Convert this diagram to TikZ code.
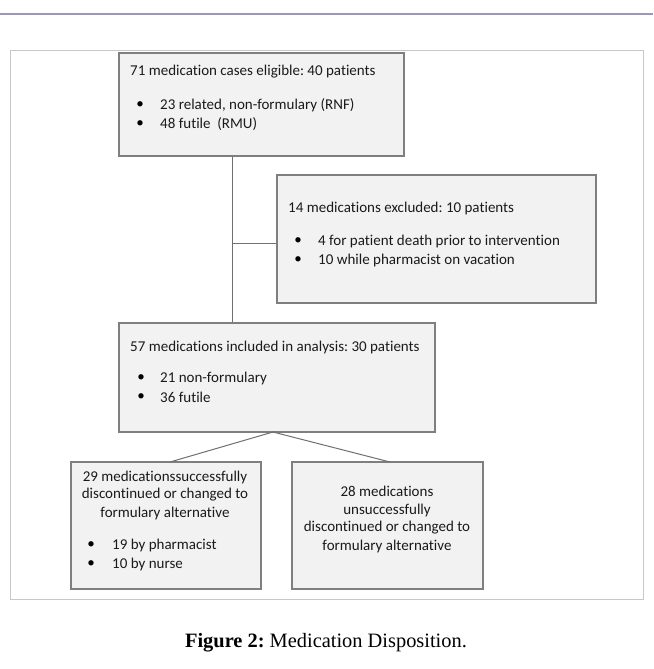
\documentclass[tikz,border=0pt]{standalone}
\usepackage{fontspec}
\setmainfont{Carlito}[Ligatures={NoCommon}]
\newfontfamily\capfont{Liberation Serif}
\frenchspacing
\definecolor{boxfill}{HTML}{F2F2F2}
\definecolor{boxline}{HTML}{7F7F7F}
\definecolor{conn}{HTML}{707070}
\definecolor{frameline}{HTML}{C8C8C8}
\definecolor{topline}{HTML}{9C97B9}
\definecolor{txt}{HTML}{1A1A1A}
\begin{document}
\begin{tikzpicture}[x=1pt,y=-1pt,
  flowbox/.style={draw=boxline, fill=boxfill, line width=1.3pt, inner sep=0pt, rectangle},
  lbl/.style={inner sep=0pt, anchor=west, text=txt, font=\fontsize{15}{18}\selectfont},
  clbl/.style={inner sep=0pt, anchor=center, text=txt, font=\fontsize{15}{18}\selectfont},
  bul/.style={inner sep=0pt, anchor=center, text=black, font=\fontsize{15}{18}\selectfont},
  link/.style={draw=conn, line width=1pt}]
\useasboundingbox (0,0) rectangle (653,669);
\fill[white] (0,0) rectangle (653,669);
% top rule and outer frame
\draw[topline, line width=2pt] (0,14) -- (653,14);
\draw[frameline, line width=1pt] (10,51) rectangle (643,599);

% boxes
\node[flowbox, minimum width=285pt, minimum height=103pt] (b1) at (261.5,104.5) {};
\node[flowbox, minimum width=319pt, minimum height=128pt] (b2) at (436.5,239) {};
\node[flowbox, minimum width=316pt, minimum height=109pt] (b3) at (277,377.5) {};
\node[flowbox, minimum width=190pt, minimum height=127pt] (b4) at (166,525.5) {};
\node[flowbox, minimum width=191pt, minimum height=127pt] (b5) at (387.5,525.5) {};

% connectors
\coordinate (j) at (232,243);
\coordinate (apex) at (273,432);
\coordinate (e4) at (170,462);
\coordinate (e5) at (390,462);
\draw[link] (b1.south -| j) -- (b3.north -| j);
\draw[link] (j) -- (j -| b2.west);
\draw[link] (e4) -- (apex) -- (e5);

% box 1 text
\node[lbl] (t1) at (130,72) {71 medication cases eligible: 40 patients};
\node[bul] (t1b1) at (140,105) {\textbullet};
\node[lbl] (t1l1) at (160,105) {23 related, non-formulary (RNF)};
\node[bul] (t1b2) at (140,124) {\textbullet};
\node[lbl] (t1l2) at (160,124) {48 futile\ \ (RMU)};

% box 2 text
\node[lbl] (t2) at (288,208) {14 medications excluded: 10 patients};
\node[bul] (t2b1) at (298,241) {\textbullet};
\node[lbl] (t2l1) at (318,241) {4 for patient death prior to intervention};
\node[bul] (t2b2) at (298,260) {\textbullet};
\node[lbl] (t2l2) at (318,260) {10 while pharmacist on vacation};

% box 3 text
\node[lbl] (t3) at (130,347) {57 medications included in analysis: 30 patients};
\node[bul] (t3b1) at (141,378) {\textbullet};
\node[lbl] (t3l1) at (160,378) {21 non-formulary};
\node[bul] (t3b2) at (141,397) {\textbullet};
\node[lbl] (t3l2) at (160,397) {36 futile};

% box 4 text
\node[clbl] (t4a) at (165,477) {29 medicationssuccessfully};
\node[clbl] (t4b) at (165,495) {discontinued or changed to};
\node[clbl] (t4c) at (165,513) {formulary alternative};
\node[bul] (t4b1) at (91,545) {\textbullet};
\node[lbl] (t4l1) at (112,545) {19 by pharmacist};
\node[bul] (t4b2) at (91,564) {\textbullet};
\node[lbl] (t4l2) at (112,564) {10 by nurse};

% box 5 text
\node[clbl] (t5a) at (387,491) {28 medications};
\node[clbl] (t5b) at (387,510) {unsuccessfully};
\node[clbl] (t5c) at (387,528) {discontinued or changed to};
\node[clbl] (t5d) at (387,546) {formulary alternative};

% caption
\node[inner sep=0pt, anchor=center, font=\capfont\fontsize{20.4}{24}\selectfont] (cap) at (326,643) {\textbf{Figure 2:} Medication Disposition.};
\end{tikzpicture}
\end{document}
